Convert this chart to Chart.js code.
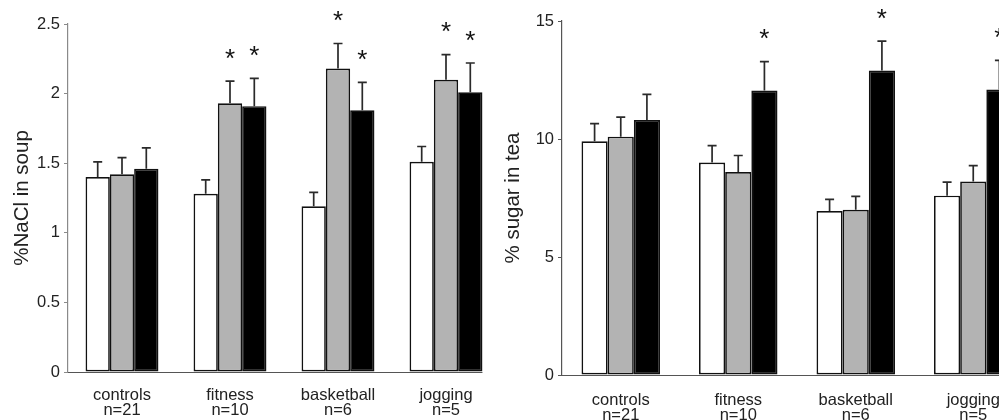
<!DOCTYPE html>
<html>
<head>
<meta charset="utf-8">
<script src="https://cdn.jsdelivr.net/npm/chart.js@4.4.0/dist/chart.umd.min.js"></script>
<style>
    html, body { margin: 0; padding: 0; background: #fff; overflow: hidden; }
    #marco { position: relative; width: 999px; height: 420px; overflow: hidden; }
    #chartSal { position: absolute; left: 0; top: 0; }
    #chartAzucar { position: absolute; left: 500px; top: 0; }
</style>
</head>
<body>
<div id="marco">
    <canvas id="chartSal" width="500" height="420"></canvas>
    <canvas id="chartAzucar" width="540" height="420"></canvas>
</div>
<script>
// Categorías del eje x y tamaño de cada grupo.
const grupos = ['controls', 'fitness', 'basketball', 'jogging'];
const muestras = ['n=21', 'n=10', 'n=6', 'n=5'];

// Panel izquierdo: %NaCl in soup (medias y error estándar).
const salBlanco = [1.40, 1.28, 1.19, 1.51];
const salGris = [1.42, 1.93, 2.18, 2.10];
const salNegro = [1.46, 1.91, 1.88, 2.01];
const salErrBlanco = [0.11, 0.10, 0.10, 0.11];
const salErrGris = [0.12, 0.16, 0.18, 0.18];
const salErrNegro = [0.15, 0.20, 0.20, 0.21];
const salSigGris = [false, true, true, true];
const salSigNegro = [false, true, true, true];
const ticksSal = [0, 0.5, 1, 1.5, 2, 2.5];

// Panel derecho: % sugar in tea (medias y error estándar).
const azucarBlanco = [9.9, 9.0, 6.95, 7.6];
const azucarGris = [10.1, 8.6, 7.0, 8.2];
const azucarNegro = [10.8, 12.05, 12.9, 12.1];
const azucarErrBlanco = [0.75, 0.72, 0.49, 0.57];
const azucarErrGris = [0.83, 0.70, 0.57, 0.67];
const azucarErrNegro = [1.09, 1.23, 1.25, 1.23];
const azucarSigNegro = [false, true, true, true];
const ticksAzucar = [0, 5, 10, 15];

const FUENTE = '"Liberation Sans", Arial, sans-serif';
const sinSig = [false, false, false, false];

// Plugin para dibujar barras de error, asteriscos y la línea del eje x.
const pluginErrores = {
    id: 'errores',
    afterDatasetsDraw(chart) {
        const ctx = chart.ctx;
        const escalaY = chart.scales.y;
        ctx.save();
        chart.data.datasets.forEach((ds, i) => {
            const meta = chart.getDatasetMeta(i);
            meta.data.forEach((barra, j) => {
                const tope = escalaY.getPixelForValue(ds.data[j] + ds.errores[j]);
                ctx.strokeStyle = '#2a2a2a';
                ctx.lineWidth = 1.7;
                ctx.beginPath();
                ctx.moveTo(barra.x, barra.y);
                ctx.lineTo(barra.x, tope);
                ctx.moveTo(barra.x - 4.5, tope);
                ctx.lineTo(barra.x + 4.5, tope);
                ctx.stroke();
                if (ds.significativo[j]) {
                    ctx.fillStyle = '#111';
                    ctx.font = '26px ' + FUENTE;
                    ctx.textAlign = 'center';
                    ctx.textBaseline = 'alphabetic';
                    ctx.fillText('*', barra.x, tope - 29 + 0.57 * 26);
                }
            });
        });
        // Línea del eje x hasta el borde de la última barra
        const ultimas = chart.getDatasetMeta(chart.data.datasets.length - 1).data;
        const fin = ultimas[ultimas.length - 1];
        const y0 = Math.round(escalaY.getPixelForValue(0)) + 0.5;
        ctx.strokeStyle = '#555';
        ctx.lineWidth = 1.2;
        ctx.beginPath();
        ctx.moveTo(chart.chartArea.left, y0);
        ctx.lineTo(fin.x + fin.width / 2, y0);
        ctx.stroke();
        ctx.restore();
    }
};

// Función para generar un panel de barras agrupadas.
const graficoPanel = (id, cfg) => {
    const ctx = document.getElementById(id).getContext('2d');
    const conjunto = (datos, errores, sig, color) => ({
        data: datos,
        errores: errores,
        significativo: sig,
        backgroundColor: color,
        borderColor: '#111',
        borderWidth: 1.7,
        borderSkipped: false,
        barPercentage: 1.0,
        categoryPercentage: cfg.categoria
    });
    return new Chart(ctx, {
        type: 'bar',
        data: {
            labels: grupos.map((g, i) => [g, muestras[i]]),
            datasets: [
                conjunto(cfg.blanco, cfg.errBlanco, cfg.sigBlanco, '#ffffff'),
                conjunto(cfg.gris, cfg.errGris, cfg.sigGris, '#b3b3b3'),
                conjunto(cfg.negro, cfg.errNegro, cfg.sigNegro, '#000000')
            ]
        },
        options: {
            responsive: false,
            animation: false,
            devicePixelRatio: 1,
            layout: { padding: { top: cfg.arriba, right: cfg.derecha, left: 0, bottom: 0 } },
            plugins: { legend: { display: false }, tooltip: { enabled: false } },
            scales: {
                x: {
                    grid: { display: false, drawTicks: false },
                    border: { display: false },
                    ticks: {
                        color: '#222',
                        padding: cfg.padX,
                        maxRotation: 0,
                        autoSkip: false,
                        font: { family: FUENTE, size: 16.5, lineHeight: 0.92 }
                    },
                    afterFit: (escala) => { escala.height = cfg.altoX; }
                },
                y: {
                    min: 0,
                    max: cfg.maximo,
                    afterBuildTicks: (escala) => { escala.ticks = cfg.ticks.map(v => ({ value: v })); },
                    grid: { drawOnChartArea: false, drawTicks: true, tickLength: 4, color: cfg.colorEje },
                    border: { display: true, color: cfg.colorEje, width: 1.2 },
                    ticks: {
                        color: '#222',
                        padding: 4,
                        callback: (v) => String(v),
                        font: { family: FUENTE, size: 16.5 }
                    },
                    title: {
                        display: true,
                        text: cfg.titulo,
                        color: '#222',
                        padding: { top: cfg.padTitulo, bottom: 0 },
                        font: { family: FUENTE, size: 20.5, lineHeight: 1.2 }
                    },
                    afterFit: (escala) => { escala.width = cfg.anchoY; }
                }
            }
        },
        plugins: [pluginErrores]
    });
};

graficoPanel('chartSal', {
    blanco: salBlanco, gris: salGris, negro: salNegro,
    errBlanco: salErrBlanco, errGris: salErrGris, errNegro: salErrNegro,
    sigBlanco: sinSig, sigGris: salSigGris, sigNegro: salSigNegro,
    ticks: ticksSal, maximo: 2.5, titulo: '%NaCl in soup',
    categoria: 0.675, arriba: 24, derecha: 0, altoX: 48, anchoY: 68,
    padX: 16, padTitulo: 10, colorEje: '#8a8a8a'
});

graficoPanel('chartAzucar', {
    blanco: azucarBlanco, gris: azucarGris, negro: azucarNegro,
    errBlanco: azucarErrBlanco, errGris: azucarErrGris, errNegro: azucarErrNegro,
    sigBlanco: sinSig, sigGris: sinSig, sigNegro: azucarSigNegro,
    ticks: ticksAzucar, maximo: 15, titulo: '% sugar in tea',
    categoria: 0.668, arriba: 21, derecha: 8, altoX: 45, anchoY: 62,
    padX: 18, padTitulo: 1, colorEje: '#555'
});
</script>
</body>
</html>
